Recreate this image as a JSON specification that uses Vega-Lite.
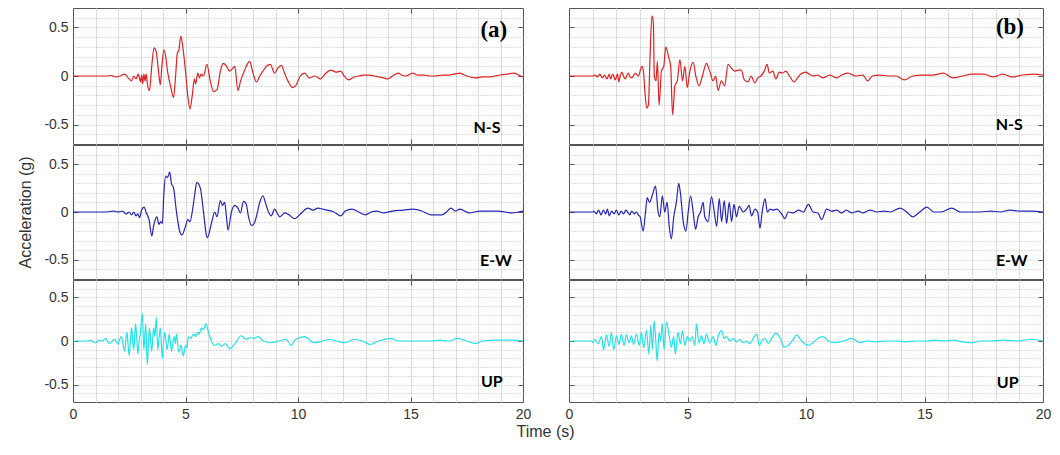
{
"$schema":"https://vega.github.io/schema/vega-lite/v6.json",
"background":"white",
"padding":{"left":17,"top":7,"right":6,"bottom":4},
"spacing":-3,
"config":{"view":{"stroke":"#555","strokeWidth":1},"axis":{"labelFont":"Liberation Sans","titleFont":"Liberation Sans","labelColor":"#333","titleColor":"#333","domain":false,"tickSize":-5,"tickColor":"#555","minExtent":0}},
"datasets":{
"aNS":[{"t":0,"v":0},{"t":1.5,"v":0},{"t":1.7,"v":0.005},{"t":1.9,"v":-0.01},{"t":2.1,"v":0},{"t":2.3,"v":0.02},{"t":2.45,"v":-0.02},{"t":2.6,"v":-0.05},{"t":2.7,"v":0},{"t":2.8,"v":-0.03},{"t":2.9,"v":0.02},{"t":3.0,"v":-0.06},{"t":3.05,"v":0.01},{"t":3.1,"v":-0.08},{"t":3.15,"v":0.02},{"t":3.2,"v":-0.05},{"t":3.25,"v":0.02},{"t":3.3,"v":-0.07},{"t":3.4,"v":-0.15},{"t":3.5,"v":0.1},{"t":3.6,"v":0.29},{"t":3.7,"v":0.25},{"t":3.8,"v":0.05},{"t":3.88,"v":-0.09},{"t":3.95,"v":0.1},{"t":4.04,"v":0.27},{"t":4.12,"v":0.2},{"t":4.2,"v":0.05},{"t":4.35,"v":-0.12},{"t":4.47,"v":-0.22},{"t":4.56,"v":0},{"t":4.64,"v":0.24},{"t":4.7,"v":0.26},{"t":4.79,"v":0.41},{"t":4.88,"v":0.3},{"t":5.0,"v":0.05},{"t":5.1,"v":-0.2},{"t":5.2,"v":-0.34},{"t":5.3,"v":-0.2},{"t":5.4,"v":-0.03},{"t":5.45,"v":-0.08},{"t":5.55,"v":0.03},{"t":5.62,"v":-0.02},{"t":5.7,"v":0.02},{"t":5.8,"v":0},{"t":5.95,"v":0.12},{"t":6.1,"v":-0.05},{"t":6.25,"v":-0.16},{"t":6.4,"v":-0.14},{"t":6.55,"v":0.05},{"t":6.67,"v":0.13},{"t":6.8,"v":0.11},{"t":6.96,"v":0.05},{"t":7.1,"v":0.08},{"t":7.19,"v":0.1},{"t":7.33,"v":-0.15},{"t":7.45,"v":-0.05},{"t":7.58,"v":0.03},{"t":7.7,"v":0.1},{"t":7.85,"v":0.15},{"t":8.0,"v":0.03},{"t":8.15,"v":-0.06},{"t":8.3,"v":0},{"t":8.44,"v":0.05},{"t":8.6,"v":0.1},{"t":8.77,"v":0.12},{"t":8.96,"v":0.03},{"t":9.1,"v":0.08},{"t":9.26,"v":0.11},{"t":9.4,"v":0.03},{"t":9.55,"v":-0.05},{"t":9.75,"v":-0.12},{"t":9.9,"v":-0.1},{"t":10.1,"v":0},{"t":10.3,"v":0.03},{"t":10.5,"v":-0.02},{"t":10.75,"v":0},{"t":11.0,"v":-0.03},{"t":11.2,"v":0.02},{"t":11.46,"v":0.06},{"t":11.7,"v":0.04},{"t":11.9,"v":0.05},{"t":12.05,"v":0},{"t":12.26,"v":-0.04},{"t":12.5,"v":-0.01},{"t":12.7,"v":0},{"t":12.9,"v":0.01},{"t":13.15,"v":0.01},{"t":13.4,"v":0},{"t":13.6,"v":-0.01},{"t":13.8,"v":-0.02},{"t":14.0,"v":-0.03},{"t":14.2,"v":0},{"t":14.46,"v":0.03},{"t":14.6,"v":0.01},{"t":14.8,"v":0},{"t":15.1,"v":0.03},{"t":15.3,"v":0.01},{"t":15.6,"v":0.01},{"t":15.85,"v":0},{"t":16.1,"v":0},{"t":16.4,"v":0.01},{"t":16.7,"v":0.01},{"t":16.95,"v":0.02},{"t":17.2,"v":0.03},{"t":17.5,"v":0},{"t":17.9,"v":-0.02},{"t":18.2,"v":-0.01},{"t":18.5,"v":-0.01},{"t":18.75,"v":0},{"t":19.0,"v":0.01},{"t":19.3,"v":0.02},{"t":19.6,"v":0.03},{"t":19.8,"v":0.01},{"t":20,"v":-0.01}],
"aEW":[{"t":0,"v":0},{"t":1.5,"v":0},{"t":1.8,"v":0.01},{"t":2.0,"v":0},{"t":2.2,"v":0.01},{"t":2.37,"v":-0.02},{"t":2.5,"v":0},{"t":2.6,"v":-0.03},{"t":2.7,"v":0},{"t":2.8,"v":-0.04},{"t":2.88,"v":-0.02},{"t":2.96,"v":-0.06},{"t":3.05,"v":0.02},{"t":3.16,"v":0.05},{"t":3.26,"v":-0.01},{"t":3.38,"v":-0.08},{"t":3.5,"v":-0.25},{"t":3.58,"v":-0.15},{"t":3.63,"v":-0.1},{"t":3.73,"v":-0.05},{"t":3.82,"v":-0.13},{"t":3.9,"v":-0.1},{"t":3.97,"v":-0.12},{"t":4.04,"v":0.2},{"t":4.12,"v":0.375},{"t":4.2,"v":0.36},{"t":4.3,"v":0.42},{"t":4.37,"v":0.3},{"t":4.47,"v":0.25},{"t":4.6,"v":0},{"t":4.74,"v":-0.2},{"t":4.84,"v":-0.24},{"t":5.0,"v":-0.15},{"t":5.1,"v":-0.08},{"t":5.2,"v":-0.1},{"t":5.33,"v":0.05},{"t":5.42,"v":0.2},{"t":5.5,"v":0.31},{"t":5.66,"v":0.25},{"t":5.8,"v":0},{"t":5.9,"v":-0.2},{"t":5.97,"v":-0.27},{"t":6.15,"v":-0.12},{"t":6.3,"v":0},{"t":6.4,"v":-0.05},{"t":6.55,"v":0.12},{"t":6.64,"v":0.07},{"t":6.74,"v":0.1},{"t":6.82,"v":-0.05},{"t":6.89,"v":-0.19},{"t":7.04,"v":0},{"t":7.19,"v":0.07},{"t":7.33,"v":0.04},{"t":7.44,"v":-0.01},{"t":7.58,"v":0.11},{"t":7.7,"v":0.08},{"t":7.8,"v":-0.05},{"t":7.93,"v":-0.14},{"t":8.05,"v":-0.12},{"t":8.15,"v":-0.05},{"t":8.3,"v":0.1},{"t":8.44,"v":0.17},{"t":8.55,"v":0.1},{"t":8.67,"v":0.01},{"t":8.81,"v":-0.04},{"t":8.96,"v":0.03},{"t":9.05,"v":0},{"t":9.19,"v":-0.05},{"t":9.41,"v":-0.01},{"t":9.6,"v":-0.03},{"t":9.85,"v":-0.07},{"t":10.15,"v":-0.01},{"t":10.44,"v":0.04},{"t":10.67,"v":0.02},{"t":10.89,"v":0.04},{"t":11.1,"v":0.03},{"t":11.3,"v":0.02},{"t":11.6,"v":0},{"t":11.9,"v":-0.04},{"t":12.1,"v":0.01},{"t":12.4,"v":0.03},{"t":12.7,"v":0},{"t":13.0,"v":-0.03},{"t":13.25,"v":0},{"t":13.5,"v":0.01},{"t":13.8,"v":-0.01},{"t":14.2,"v":0.01},{"t":14.7,"v":0.02},{"t":15.1,"v":0.03},{"t":15.5,"v":0.01},{"t":15.9,"v":-0.03},{"t":16.4,"v":-0.03},{"t":16.6,"v":0},{"t":16.8,"v":0.04},{"t":17.0,"v":0.01},{"t":17.2,"v":0.03},{"t":17.6,"v":-0.01},{"t":18.1,"v":0.01},{"t":18.5,"v":0.01},{"t":18.9,"v":0.01},{"t":19.2,"v":0},{"t":19.5,"v":-0.01},{"t":19.8,"v":0},{"t":20,"v":0.01}],
"aUP":[{"t":0,"v":0},{"t":0.7,"v":0},{"t":0.77,"v":0.01},{"t":0.85,"v":0},{"t":1.0,"v":-0.02},{"t":1.15,"v":0.01},{"t":1.3,"v":0},{"t":1.46,"v":0.03},{"t":1.6,"v":-0.03},{"t":1.75,"v":0},{"t":1.85,"v":0.02},{"t":2.0,"v":-0.04},{"t":2.08,"v":0.02},{"t":2.15,"v":0.05},{"t":2.22,"v":-0.03},{"t":2.3,"v":-0.12},{"t":2.35,"v":0.02},{"t":2.4,"v":0.1},{"t":2.45,"v":-0.05},{"t":2.5,"v":-0.17},{"t":2.55,"v":0},{"t":2.6,"v":0.15},{"t":2.65,"v":0.02},{"t":2.7,"v":-0.1},{"t":2.78,"v":0.2},{"t":2.83,"v":0.05},{"t":2.88,"v":-0.15},{"t":2.94,"v":0},{"t":3.0,"v":0.1},{"t":3.08,"v":0.32},{"t":3.15,"v":-0.1},{"t":3.23,"v":0.2},{"t":3.3,"v":-0.27},{"t":3.35,"v":-0.05},{"t":3.4,"v":0.15},{"t":3.45,"v":0},{"t":3.5,"v":-0.12},{"t":3.58,"v":0.15},{"t":3.64,"v":0.05},{"t":3.7,"v":0.27},{"t":3.77,"v":-0.1},{"t":3.83,"v":0.05},{"t":3.88,"v":0.15},{"t":3.97,"v":-0.2},{"t":4.02,"v":-0.02},{"t":4.08,"v":0.1},{"t":4.13,"v":0},{"t":4.18,"v":-0.1},{"t":4.28,"v":0.08},{"t":4.33,"v":-0.02},{"t":4.38,"v":-0.12},{"t":4.45,"v":0},{"t":4.5,"v":0.05},{"t":4.55,"v":-0.03},{"t":4.6,"v":0.08},{"t":4.7,"v":-0.13},{"t":4.8,"v":-0.05},{"t":4.9,"v":-0.17},{"t":5.0,"v":-0.05},{"t":5.06,"v":-0.08},{"t":5.12,"v":0.05},{"t":5.23,"v":0.03},{"t":5.3,"v":0.06},{"t":5.38,"v":0.08},{"t":5.45,"v":0.05},{"t":5.54,"v":0.1},{"t":5.62,"v":0.08},{"t":5.7,"v":0.15},{"t":5.8,"v":0.13},{"t":5.9,"v":0.2},{"t":6.0,"v":0.12},{"t":6.15,"v":0},{"t":6.3,"v":-0.05},{"t":6.46,"v":-0.03},{"t":6.6,"v":-0.06},{"t":6.77,"v":-0.03},{"t":6.97,"v":-0.09},{"t":7.1,"v":-0.06},{"t":7.23,"v":-0.02},{"t":7.46,"v":0.06},{"t":7.7,"v":0.02},{"t":7.9,"v":0.04},{"t":8.05,"v":0.03},{"t":8.23,"v":0.05},{"t":8.46,"v":0},{"t":8.77,"v":-0.02},{"t":9.15,"v":0},{"t":9.46,"v":0.02},{"t":9.7,"v":-0.05},{"t":9.9,"v":0.02},{"t":10.3,"v":0.05},{"t":10.7,"v":-0.02},{"t":11.1,"v":0},{"t":11.4,"v":0.02},{"t":11.7,"v":0},{"t":12.1,"v":-0.02},{"t":12.5,"v":0.02},{"t":12.85,"v":0},{"t":13.2,"v":-0.04},{"t":13.6,"v":0},{"t":14.1,"v":0.03},{"t":14.5,"v":0},{"t":15.0,"v":0},{"t":15.5,"v":0},{"t":15.9,"v":0},{"t":16.3,"v":0.01},{"t":16.7,"v":0},{"t":17.1,"v":0.03},{"t":17.5,"v":0},{"t":17.9,"v":-0.03},{"t":18.2,"v":0},{"t":18.8,"v":0.01},{"t":19.5,"v":0.01},{"t":20,"v":0}],
"bNS":[{"t":0,"v":0},{"t":1.0,"v":0},{"t":1.1,"v":0.01},{"t":1.2,"v":-0.01},{"t":1.3,"v":0.02},{"t":1.4,"v":-0.02},{"t":1.5,"v":0.01},{"t":1.6,"v":-0.03},{"t":1.7,"v":0.02},{"t":1.75,"v":-0.03},{"t":1.85,"v":0.02},{"t":1.95,"v":-0.04},{"t":2.05,"v":0.02},{"t":2.1,"v":-0.06},{"t":2.16,"v":0},{"t":2.23,"v":0.04},{"t":2.3,"v":0},{"t":2.37,"v":-0.03},{"t":2.5,"v":0.03},{"t":2.58,"v":-0.01},{"t":2.65,"v":-0.02},{"t":2.8,"v":0.03},{"t":2.93,"v":0},{"t":3.07,"v":0.1},{"t":3.14,"v":0.05},{"t":3.2,"v":-0.15},{"t":3.28,"v":-0.33},{"t":3.35,"v":-0.3},{"t":3.42,"v":0.2},{"t":3.5,"v":0.62},{"t":3.56,"v":0.55},{"t":3.6,"v":0},{"t":3.67,"v":-0.05},{"t":3.73,"v":0.15},{"t":3.8,"v":-0.3},{"t":3.9,"v":0.05},{"t":4.0,"v":0.1},{"t":4.08,"v":0.3},{"t":4.2,"v":0.2},{"t":4.29,"v":0.1},{"t":4.37,"v":-0.4},{"t":4.47,"v":-0.1},{"t":4.57,"v":-0.05},{"t":4.68,"v":0.17},{"t":4.79,"v":-0.05},{"t":4.89,"v":0.1},{"t":4.99,"v":-0.12},{"t":5.1,"v":0.05},{"t":5.24,"v":0.14},{"t":5.35,"v":0},{"t":5.49,"v":-0.1},{"t":5.63,"v":0},{"t":5.8,"v":0.13},{"t":5.94,"v":0.05},{"t":6.08,"v":-0.05},{"t":6.19,"v":0},{"t":6.29,"v":-0.15},{"t":6.43,"v":-0.05},{"t":6.57,"v":-0.1},{"t":6.71,"v":0.12},{"t":6.85,"v":0.08},{"t":6.99,"v":0.05},{"t":7.13,"v":0.06},{"t":7.27,"v":0.06},{"t":7.4,"v":-0.04},{"t":7.55,"v":-0.06},{"t":7.69,"v":0},{"t":7.83,"v":-0.07},{"t":7.97,"v":-0.02},{"t":8.1,"v":0},{"t":8.24,"v":0.05},{"t":8.36,"v":0.12},{"t":8.45,"v":0.03},{"t":8.6,"v":0.05},{"t":8.73,"v":-0.03},{"t":8.87,"v":0.04},{"t":9.0,"v":0.03},{"t":9.15,"v":0.05},{"t":9.3,"v":0},{"t":9.5,"v":-0.06},{"t":9.64,"v":-0.02},{"t":9.78,"v":0.02},{"t":10.0,"v":0.04},{"t":10.13,"v":0.02},{"t":10.3,"v":0},{"t":10.5,"v":0.01},{"t":10.7,"v":-0.02},{"t":11.0,"v":0.01},{"t":11.3,"v":-0.02},{"t":11.5,"v":0.01},{"t":11.76,"v":0.03},{"t":12.1,"v":0},{"t":12.4,"v":0.01},{"t":12.6,"v":-0.05},{"t":12.8,"v":0},{"t":13.1,"v":0.01},{"t":13.5,"v":0},{"t":13.8,"v":0},{"t":14.15,"v":-0.04},{"t":14.5,"v":0},{"t":14.9,"v":0.01},{"t":15.35,"v":0.01},{"t":15.8,"v":0.03},{"t":16.2,"v":-0.02},{"t":16.6,"v":0},{"t":17.0,"v":0.02},{"t":17.5,"v":0.02},{"t":17.9,"v":-0.01},{"t":18.3,"v":0.02},{"t":18.7,"v":-0.01},{"t":19.15,"v":0.01},{"t":19.6,"v":0.02},{"t":20,"v":0.01}],
"bEW":[{"t":0,"v":0},{"t":1.0,"v":0},{"t":1.05,"v":0.01},{"t":1.15,"v":-0.02},{"t":1.25,"v":0.02},{"t":1.35,"v":-0.03},{"t":1.45,"v":0.02},{"t":1.55,"v":-0.02},{"t":1.62,"v":0.03},{"t":1.7,"v":-0.04},{"t":1.8,"v":0.01},{"t":1.9,"v":-0.02},{"t":2.0,"v":0.02},{"t":2.1,"v":-0.03},{"t":2.2,"v":0.01},{"t":2.3,"v":-0.02},{"t":2.4,"v":0.02},{"t":2.5,"v":-0.01},{"t":2.56,"v":-0.03},{"t":2.65,"v":0.01},{"t":2.75,"v":-0.02},{"t":2.85,"v":0},{"t":2.92,"v":-0.03},{"t":3.0,"v":-0.05},{"t":3.13,"v":-0.2},{"t":3.23,"v":0},{"t":3.3,"v":0.15},{"t":3.4,"v":0.1},{"t":3.52,"v":0.18},{"t":3.65,"v":0.27},{"t":3.76,"v":0},{"t":3.83,"v":-0.05},{"t":3.94,"v":0.17},{"t":4.04,"v":0},{"t":4.14,"v":0.1},{"t":4.23,"v":-0.15},{"t":4.32,"v":-0.28},{"t":4.42,"v":-0.05},{"t":4.53,"v":0.1},{"t":4.63,"v":0.3},{"t":4.7,"v":0.2},{"t":4.82,"v":-0.1},{"t":4.93,"v":-0.2},{"t":5.03,"v":0},{"t":5.13,"v":0.17},{"t":5.24,"v":0},{"t":5.34,"v":-0.18},{"t":5.45,"v":-0.05},{"t":5.55,"v":0},{"t":5.66,"v":0.1},{"t":5.73,"v":-0.05},{"t":5.87,"v":-0.1},{"t":6.01,"v":0.16},{"t":6.13,"v":0},{"t":6.23,"v":-0.15},{"t":6.34,"v":0.14},{"t":6.44,"v":-0.1},{"t":6.55,"v":0.12},{"t":6.65,"v":-0.12},{"t":6.76,"v":0.1},{"t":6.86,"v":-0.1},{"t":6.96,"v":0.08},{"t":7.07,"v":-0.05},{"t":7.18,"v":0.06},{"t":7.35,"v":0},{"t":7.49,"v":0.03},{"t":7.6,"v":0.07},{"t":7.7,"v":-0.04},{"t":7.85,"v":0.03},{"t":7.96,"v":0},{"t":8.06,"v":-0.17},{"t":8.15,"v":0},{"t":8.27,"v":0.14},{"t":8.37,"v":0},{"t":8.48,"v":0.03},{"t":8.62,"v":0.02},{"t":8.76,"v":0.03},{"t":8.97,"v":-0.02},{"t":9.11,"v":-0.07},{"t":9.25,"v":0},{"t":9.46,"v":-0.01},{"t":9.68,"v":0.02},{"t":9.89,"v":0},{"t":10.1,"v":0.08},{"t":10.3,"v":0},{"t":10.5,"v":-0.01},{"t":10.66,"v":-0.08},{"t":10.87,"v":0.03},{"t":11.08,"v":0.01},{"t":11.3,"v":0.02},{"t":11.5,"v":-0.01},{"t":11.7,"v":0.02},{"t":11.93,"v":-0.01},{"t":12.2,"v":0.01},{"t":12.4,"v":-0.01},{"t":12.7,"v":0.02},{"t":13.0,"v":0},{"t":13.3,"v":0.01},{"t":13.55,"v":0},{"t":13.97,"v":0.04},{"t":14.25,"v":0},{"t":14.5,"v":-0.05},{"t":14.8,"v":0},{"t":15.1,"v":0.05},{"t":15.4,"v":0},{"t":15.7,"v":0},{"t":16.15,"v":0.04},{"t":16.5,"v":0},{"t":16.9,"v":0},{"t":17.35,"v":0},{"t":17.8,"v":0.01},{"t":18.2,"v":0},{"t":18.6,"v":0.02},{"t":19.0,"v":0.01},{"t":19.5,"v":0.01},{"t":20,"v":0}],
"bUP":[{"t":0,"v":0},{"t":0.95,"v":0},{"t":1.0,"v":-0.02},{"t":1.08,"v":0.02},{"t":1.23,"v":-0.03},{"t":1.37,"v":0.05},{"t":1.46,"v":-0.1},{"t":1.58,"v":0.07},{"t":1.69,"v":-0.06},{"t":1.79,"v":0.1},{"t":1.89,"v":-0.1},{"t":2.0,"v":0.06},{"t":2.11,"v":-0.04},{"t":2.21,"v":0.08},{"t":2.32,"v":-0.05},{"t":2.42,"v":0.07},{"t":2.54,"v":-0.02},{"t":2.63,"v":0.06},{"t":2.73,"v":-0.04},{"t":2.85,"v":0.08},{"t":2.96,"v":-0.05},{"t":3.06,"v":0.1},{"t":3.15,"v":-0.08},{"t":3.27,"v":0.12},{"t":3.37,"v":-0.15},{"t":3.45,"v":0.18},{"t":3.52,"v":-0.1},{"t":3.59,"v":0.23},{"t":3.66,"v":0},{"t":3.72,"v":-0.23},{"t":3.8,"v":0.1},{"t":3.87,"v":0},{"t":3.94,"v":0.2},{"t":4.01,"v":-0.1},{"t":4.11,"v":0.22},{"t":4.23,"v":0.05},{"t":4.32,"v":-0.07},{"t":4.42,"v":0.05},{"t":4.49,"v":-0.15},{"t":4.6,"v":0.1},{"t":4.7,"v":-0.03},{"t":4.79,"v":0.12},{"t":4.89,"v":-0.05},{"t":4.99,"v":0.05},{"t":5.1,"v":0},{"t":5.2,"v":0.05},{"t":5.31,"v":-0.05},{"t":5.38,"v":0.2},{"t":5.48,"v":-0.02},{"t":5.59,"v":0.06},{"t":5.69,"v":-0.03},{"t":5.8,"v":0.08},{"t":5.94,"v":-0.02},{"t":6.08,"v":0.05},{"t":6.2,"v":-0.05},{"t":6.3,"v":0.06},{"t":6.44,"v":0.12},{"t":6.54,"v":0.03},{"t":6.65,"v":0.05},{"t":6.79,"v":0},{"t":6.93,"v":0.03},{"t":7.07,"v":-0.01},{"t":7.21,"v":0.02},{"t":7.35,"v":-0.02},{"t":7.49,"v":0},{"t":7.63,"v":-0.03},{"t":7.77,"v":0.03},{"t":7.92,"v":0.08},{"t":8.03,"v":-0.05},{"t":8.13,"v":0},{"t":8.27,"v":0.03},{"t":8.41,"v":-0.03},{"t":8.55,"v":0.03},{"t":8.73,"v":0.09},{"t":8.9,"v":0.04},{"t":9.07,"v":-0.07},{"t":9.25,"v":-0.05},{"t":9.46,"v":0.02},{"t":9.6,"v":0.07},{"t":9.82,"v":0},{"t":10.1,"v":-0.05},{"t":10.3,"v":-0.02},{"t":10.5,"v":0.03},{"t":10.73,"v":0.05},{"t":10.94,"v":0},{"t":11.2,"v":-0.02},{"t":11.58,"v":0},{"t":11.93,"v":0.03},{"t":12.28,"v":-0.02},{"t":12.56,"v":0},{"t":12.99,"v":-0.01},{"t":13.4,"v":0},{"t":13.8,"v":0},{"t":14.25,"v":-0.01},{"t":14.7,"v":0},{"t":15.1,"v":0},{"t":15.4,"v":0.01},{"t":15.9,"v":0},{"t":16.2,"v":0.01},{"t":16.6,"v":-0.01},{"t":17.0,"v":-0.02},{"t":17.35,"v":0},{"t":17.8,"v":0},{"t":18.3,"v":0.01},{"t":18.9,"v":0},{"t":19.5,"v":0.02},{"t":20,"v":0}]
},
"vconcat":[
{"spacing":46,"bounds":"flush","hconcat":[
 {"width":450,"height":136,"resolve":{"axis":{"x":"independent","y":"independent"}},
  "layer":[
   {"data":{"name":"aNS"},"mark":{"type":"line","color":"#dd2222","strokeWidth":1.2,"clip":true,"interpolate":"monotone"},
    "encoding":{"x":{"field":"t","type":"quantitative","scale":{"domain":[0,20],"nice":false,"zero":false},"axis":{"orient":"bottom","values":[5,10,15],"labels":false,"title":null,"grid":false}},
                "y":{"field":"v","type":"quantitative","scale":{"domain":[-0.7,0.7],"nice":false,"zero":false},"axis":{"orient":"left","values":[-0.5,0,0.5],"labelExpr":"datum.value < 0 ? '-0.5' : (datum.value > 0 ? '0.5' : '0')","labelFontSize":14,"labelPadding":10,"title":" ","titleFontSize":16,"titleFontWeight":"normal","titlePadding":10,"grid":false}}}},
   {"data":{"values":[{"t":19.0,"v":-0.54,"s":"N-S"}]},"mark":{"type":"text","align":"right","baseline":"middle","font":"Lato","fontWeight":"bold","fontSize":16,"color":"#000"},
    "encoding":{"x":{"field":"t","type":"quantitative","axis":{"orient":"top","values":[1,2,3,4,5,6,7,8,9,10,11,12,13,14,15,16,17,18,19],"labels":false,"title":null,"grid":true,"gridColor":"#dcdcdc","tickOpacity":{"condition":{"test":"datum.value % 5 === 0","value":1},"value":0}}},
                "y":{"field":"v","type":"quantitative","axis":{"orient":"right","values":[-0.6,-0.5,-0.4,-0.3,-0.2,-0.1,0,0.1,0.2,0.3,0.4,0.5,0.6],"labels":false,"title":null,"grid":true,"gridColor":"#bdbdbd","gridDash":[1,2],"tickOpacity":{"condition":{"test":"abs(datum.value) < 1e-9 || abs(abs(datum.value) - 0.5) < 1e-9","value":1},"value":0}}},
                "text":{"field":"s"}}},
   {"data":{"values":[{"t":19.3,"v":0.47,"s":"(a)"}]},"mark":{"type":"text","align":"right","baseline":"middle","font":"Liberation Serif","fontWeight":"bold","fontSize":23,"color":"#000"},
    "encoding":{"x":{"field":"t","type":"quantitative","axis":null},"y":{"field":"v","type":"quantitative","axis":null},"text":{"field":"s"}}}
  ]},
 {"width":474,"height":136,"resolve":{"axis":{"x":"independent","y":"independent"}},
  "layer":[
   {"data":{"name":"bNS"},"mark":{"type":"line","color":"#dd2222","strokeWidth":1.2,"clip":true,"interpolate":"monotone"},
    "encoding":{"x":{"field":"t","type":"quantitative","scale":{"domain":[0,20],"nice":false,"zero":false},"axis":{"orient":"bottom","values":[5,10,15],"labels":false,"title":null,"grid":false}},
                "y":{"field":"v","type":"quantitative","scale":{"domain":[-0.7,0.7],"nice":false,"zero":false},"axis":{"orient":"left","values":[-0.5,0,0.5],"labels":false,"title":null,"grid":false}}}},
   {"data":{"values":[{"t":19.15,"v":-0.5,"s":"N-S"}]},"mark":{"type":"text","align":"right","baseline":"middle","font":"Lato","fontWeight":"bold","fontSize":16,"color":"#000"},
    "encoding":{"x":{"field":"t","type":"quantitative","axis":{"orient":"top","values":[1,2,3,4,5,6,7,8,9,10,11,12,13,14,15,16,17,18,19],"labels":false,"title":null,"grid":true,"gridColor":"#dcdcdc","tickOpacity":{"condition":{"test":"datum.value % 5 === 0","value":1},"value":0}}},
                "y":{"field":"v","type":"quantitative","axis":{"orient":"right","values":[-0.6,-0.5,-0.4,-0.3,-0.2,-0.1,0,0.1,0.2,0.3,0.4,0.5,0.6],"labels":false,"title":null,"grid":true,"gridColor":"#bdbdbd","gridDash":[1,2],"tickOpacity":{"condition":{"test":"abs(datum.value) < 1e-9 || abs(abs(datum.value) - 0.5) < 1e-9","value":1},"value":0}}},
                "text":{"field":"s"}}},
   {"data":{"values":[{"t":19.2,"v":0.5,"s":"(b)"}]},"mark":{"type":"text","align":"right","baseline":"middle","font":"Liberation Serif","fontWeight":"bold","fontSize":23,"color":"#000"},
    "encoding":{"x":{"field":"t","type":"quantitative","axis":null},"y":{"field":"v","type":"quantitative","axis":null},"text":{"field":"s"}}}
  ]}
]},
{"spacing":46,"bounds":"flush","hconcat":[
 {"width":450,"height":134,"resolve":{"axis":{"x":"independent","y":"independent"}},
  "layer":[
   {"data":{"name":"aEW"},"mark":{"type":"line","color":"#2424b8","strokeWidth":1.2,"clip":true,"interpolate":"monotone"},
    "encoding":{"x":{"field":"t","type":"quantitative","scale":{"domain":[0,20],"nice":false,"zero":false},"axis":{"orient":"bottom","values":[5,10,15],"labels":false,"title":null,"grid":false}},
                "y":{"field":"v","type":"quantitative","scale":{"domain":[-0.7,0.7],"nice":false,"zero":false},"axis":{"orient":"left","values":[-0.5,0,0.5],"labelExpr":"datum.value < 0 ? '-0.5' : (datum.value > 0 ? '0.5' : '0')","labelFontSize":14,"labelPadding":10,"title":"Acceleration (g)","titleFontSize":16,"titleFontWeight":"normal","titlePadding":10,"grid":false}}}},
   {"data":{"values":[{"t":19.5,"v":-0.51,"s":"E-W"}]},"mark":{"type":"text","align":"right","baseline":"middle","font":"Lato","fontWeight":"bold","fontSize":16,"color":"#000"},
    "encoding":{"x":{"field":"t","type":"quantitative","axis":{"orient":"top","values":[1,2,3,4,5,6,7,8,9,10,11,12,13,14,15,16,17,18,19],"labels":false,"title":null,"grid":true,"gridColor":"#dcdcdc","tickOpacity":{"condition":{"test":"datum.value % 5 === 0","value":1},"value":0}}},
                "y":{"field":"v","type":"quantitative","axis":{"orient":"right","values":[-0.6,-0.5,-0.4,-0.3,-0.2,-0.1,0,0.1,0.2,0.3,0.4,0.5,0.6],"labels":false,"title":null,"grid":true,"gridColor":"#bdbdbd","gridDash":[1,2],"tickOpacity":{"condition":{"test":"abs(datum.value) < 1e-9 || abs(abs(datum.value) - 0.5) < 1e-9","value":1},"value":0}}},
                "text":{"field":"s"}}}
  ]},
 {"width":474,"height":134,"resolve":{"axis":{"x":"independent","y":"independent"}},
  "layer":[
   {"data":{"name":"bEW"},"mark":{"type":"line","color":"#2424b8","strokeWidth":1.2,"clip":true,"interpolate":"monotone"},
    "encoding":{"x":{"field":"t","type":"quantitative","scale":{"domain":[0,20],"nice":false,"zero":false},"axis":{"orient":"bottom","values":[5,10,15],"labels":false,"title":null,"grid":false}},
                "y":{"field":"v","type":"quantitative","scale":{"domain":[-0.7,0.7],"nice":false,"zero":false},"axis":{"orient":"left","values":[-0.5,0,0.5],"labels":false,"title":null,"grid":false}}}},
   {"data":{"values":[{"t":19.35,"v":-0.51,"s":"E-W"}]},"mark":{"type":"text","align":"right","baseline":"middle","font":"Lato","fontWeight":"bold","fontSize":16,"color":"#000"},
    "encoding":{"x":{"field":"t","type":"quantitative","axis":{"orient":"top","values":[1,2,3,4,5,6,7,8,9,10,11,12,13,14,15,16,17,18,19],"labels":false,"title":null,"grid":true,"gridColor":"#dcdcdc","tickOpacity":{"condition":{"test":"datum.value % 5 === 0","value":1},"value":0}}},
                "y":{"field":"v","type":"quantitative","axis":{"orient":"right","values":[-0.6,-0.5,-0.4,-0.3,-0.2,-0.1,0,0.1,0.2,0.3,0.4,0.5,0.6],"labels":false,"title":null,"grid":true,"gridColor":"#bdbdbd","gridDash":[1,2],"tickOpacity":{"condition":{"test":"abs(datum.value) < 1e-9 || abs(abs(datum.value) - 0.5) < 1e-9","value":1},"value":0}}},
                "text":{"field":"s"}}}
  ]}
]},
{"spacing":46,"bounds":"flush","hconcat":[
 {"width":450,"height":122,"resolve":{"axis":{"x":"independent","y":"independent"}},
  "layer":[
   {"data":{"name":"aUP"},"mark":{"type":"line","color":"#22e2ea","strokeWidth":1.2,"clip":true,"interpolate":"monotone"},
    "encoding":{"x":{"field":"t","type":"quantitative","scale":{"domain":[0,20],"nice":false,"zero":false},"axis":{"orient":"bottom","values":[0,5,10,15,20],"labelFlush":false,"labelFontSize":14,"labelPadding":10,"tickOpacity":{"condition":{"test":"datum.value > 0 && datum.value < 20","value":1},"value":0},"title":"Time (s)","titleX":472,"titleFontSize":16,"titleFontWeight":"normal","titlePadding":2,"grid":false}},
                "y":{"field":"v","type":"quantitative","scale":{"domain":[-0.7,0.7],"nice":false,"zero":false},"axis":{"orient":"left","values":[-0.5,0,0.5],"labelExpr":"datum.value < 0 ? '-0.5' : (datum.value > 0 ? '0.5' : '0')","labelFontSize":14,"labelPadding":10,"title":" ","titleFontSize":16,"titleFontWeight":"normal","titlePadding":10,"grid":false}}}},
   {"data":{"values":[{"t":19.1,"v":-0.47,"s":"UP"}]},"mark":{"type":"text","align":"right","baseline":"middle","font":"Lato","fontWeight":"bold","fontSize":16,"color":"#000"},
    "encoding":{"x":{"field":"t","type":"quantitative","axis":{"orient":"top","values":[1,2,3,4,5,6,7,8,9,10,11,12,13,14,15,16,17,18,19],"labels":false,"title":null,"grid":true,"gridColor":"#dcdcdc","tickOpacity":{"condition":{"test":"datum.value % 5 === 0","value":1},"value":0}}},
                "y":{"field":"v","type":"quantitative","axis":{"orient":"right","values":[-0.6,-0.5,-0.4,-0.3,-0.2,-0.1,0,0.1,0.2,0.3,0.4,0.5,0.6],"labels":false,"title":null,"grid":true,"gridColor":"#bdbdbd","gridDash":[1,2],"tickOpacity":{"condition":{"test":"abs(datum.value) < 1e-9 || abs(abs(datum.value) - 0.5) < 1e-9","value":1},"value":0}}},
                "text":{"field":"s"}}}
  ]},
 {"width":474,"height":122,"resolve":{"axis":{"x":"independent","y":"independent"}},
  "layer":[
   {"data":{"name":"bUP"},"mark":{"type":"line","color":"#22e2ea","strokeWidth":1.2,"clip":true,"interpolate":"monotone"},
    "encoding":{"x":{"field":"t","type":"quantitative","scale":{"domain":[0,20],"nice":false,"zero":false},"axis":{"orient":"bottom","values":[0,5,10,15,20],"labelFlush":false,"labelFontSize":14,"labelPadding":10,"tickOpacity":{"condition":{"test":"datum.value > 0 && datum.value < 20","value":1},"value":0},"title":null,"grid":false}},
                "y":{"field":"v","type":"quantitative","scale":{"domain":[-0.7,0.7],"nice":false,"zero":false},"axis":{"orient":"left","values":[-0.5,0,0.5],"labels":false,"title":null,"grid":false}}}},
   {"data":{"values":[{"t":18.97,"v":-0.48,"s":"UP"}]},"mark":{"type":"text","align":"right","baseline":"middle","font":"Lato","fontWeight":"bold","fontSize":16,"color":"#000"},
    "encoding":{"x":{"field":"t","type":"quantitative","axis":{"orient":"top","values":[1,2,3,4,5,6,7,8,9,10,11,12,13,14,15,16,17,18,19],"labels":false,"title":null,"grid":true,"gridColor":"#dcdcdc","tickOpacity":{"condition":{"test":"datum.value % 5 === 0","value":1},"value":0}}},
                "y":{"field":"v","type":"quantitative","axis":{"orient":"right","values":[-0.6,-0.5,-0.4,-0.3,-0.2,-0.1,0,0.1,0.2,0.3,0.4,0.5,0.6],"labels":false,"title":null,"grid":true,"gridColor":"#bdbdbd","gridDash":[1,2],"tickOpacity":{"condition":{"test":"abs(datum.value) < 1e-9 || abs(abs(datum.value) - 0.5) < 1e-9","value":1},"value":0}}},
                "text":{"field":"s"}}}
  ]}
]}
]
}
